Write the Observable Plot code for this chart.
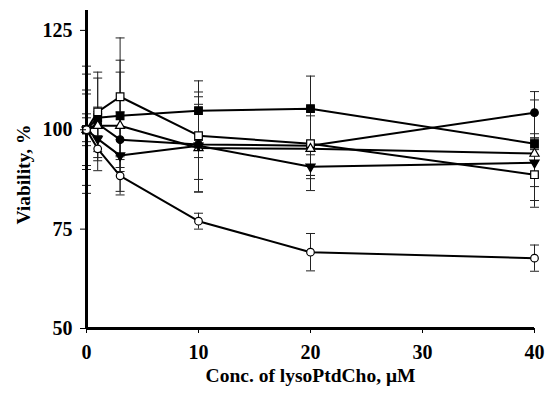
<!DOCTYPE html>
<html><head><meta charset="utf-8">
<script src="https://cdn.jsdelivr.net/npm/d3@7"></script>
<script src="https://cdn.jsdelivr.net/npm/@observablehq/plot@0.6"></script>
<style>body{margin:0;background:#fff}</style>
</head><body><div id="chart"></div>
<script>
const conc = [0, 1, 3, 10, 20, 40];
const xTicks = [0, 10, 20, 30, 40];
const yTicks = [50, 75, 100, 125];
const xLabel = "Conc. of lysoPtdCho, \u03bcM";
const yLabel = "Viability, %";

// series values (viability %) and symmetric error bars
const filledCircle    = [100, 101.5, 97.5, 96.3, 96.0, 104.3];
const filledCircleErr = [10, 3, 7, 12, 7.5, 5.3];
const filledSquare    = [100, 103.0, 103.5, 104.8, 105.3, 96.5];
const filledSquareErr = [4, 10, 11, 7.5, 8.2, 1.5];
const openSquare      = [100, 104.5, 108.3, 98.5, 96.5, 88.7];
const openSquareErr   = [9, 10, 14.8, 11, 8, 6.5];
const openTriangle    = [100, 101.0, 101.0, 95.4, 95.2, 94.0];
const openTriangleErr = [14, 3, 16.5, 11, 10.5, 13.5];
const downTriangle    = [100, 97.7, 93.5, 96.0, 90.7, 91.7];
const downTriangleErr = [16, 8, 4, 3, 3, 6];
const openCircle      = [100, 95.2, 88.4, 77.0, 69.2, 67.7];
const openCircleErr   = [3, 3, 4.8, 2, 4.7, 3.3];

const series = [
  {name: "filledCircle", v: filledCircle, e: filledCircleErr, symbol: "circle", fill: "black", rotate: 0, r: 3.8},
  {name: "filledSquare", v: filledSquare, e: filledSquareErr, symbol: "square", fill: "black", rotate: 0, r: 4.3},
  {name: "openSquare", v: openSquare, e: openSquareErr, symbol: "square", fill: "white", rotate: 0, r: 4.3},
  {name: "openTriangle", v: openTriangle, e: openTriangleErr, symbol: "triangle", fill: "white", rotate: 0, r: 3.4},
  {name: "downTriangle", v: downTriangle, e: downTriangleErr, symbol: "triangle", fill: "black", rotate: 180, r: 3.4},
  {name: "openCircle", v: openCircle, e: openCircleErr, symbol: "circle", fill: "white", rotate: 0, r: 3.8}
];

const rows = series.flatMap(s => conc.map((c, i) => ({
  series: s.name, x: c, y: s.v[i], lo: s.v[i] - s.e[i], hi: s.v[i] + s.e[i]
})));
const caps = rows.flatMap(d => [{x: d.x, y: d.lo}, {x: d.x, y: d.hi}]);

const capSymbol = {draw(ctx) { ctx.moveTo(-4.5, 0); ctx.lineTo(4.5, 0); }};

const font = {fontFamily: "Liberation Serif", fontWeight: "bold"};

const marks = [
  Plot.ruleX(rows, {x: "x", y1: "lo", y2: "hi", stroke: "#222", strokeWidth: 1}),
  Plot.dot(caps, {x: "x", y: "y", symbol: capSymbol, fill: "none", stroke: "#222", strokeWidth: 1}),
  Plot.ruleX([0], {y1: 50, y2: 130, stroke: "black", strokeWidth: 3}),
  Plot.ruleY([50], {x1: 0, x2: 40, stroke: "black", strokeWidth: 3}),
  Plot.line(rows, {x: "x", y: "y", z: "series", stroke: "black", strokeWidth: 2})
];
for (const s of series) {
  marks.push(Plot.dot(rows.filter(d => d.series === s.name), {
    x: "x", y: "y", symbol: s.symbol, fill: s.fill, stroke: "black", strokeWidth: 1.2,
    r: s.r, rotate: s.rotate
  }));
}
marks.push(
  Plot.axisX({ticks: xTicks, tickSize: 5, tickPadding: 11, tickFormat: d => String(d), fontSize: 20, ...font, label: null}),
  Plot.axisY({ticks: yTicks, tickSize: 6, tickPadding: 8, tickFormat: d => String(d), fontSize: 20, ...font, label: null}),
  Plot.text([xLabel], {frameAnchor: "bottom", dy: 53, fontSize: 19.5, ...font, fill: "black"}),
  Plot.text([yLabel], {frameAnchor: "left", textAnchor: "middle", dx: -63, dy: 5, rotate: -90, fontSize: 19.5, ...font, fill: "black"})
);

const chart = Plot.plot({
  width: 545, height: 393,
  marginLeft: 86, marginRight: 11, marginTop: 10, marginBottom: 65,
  x: {domain: [0, 40]},
  y: {domain: [50, 130]},
  style: {background: "white", color: "black", fontFamily: "Liberation Serif"},
  marks
});
document.getElementById("chart").appendChild(chart);
</script>
</body></html>
